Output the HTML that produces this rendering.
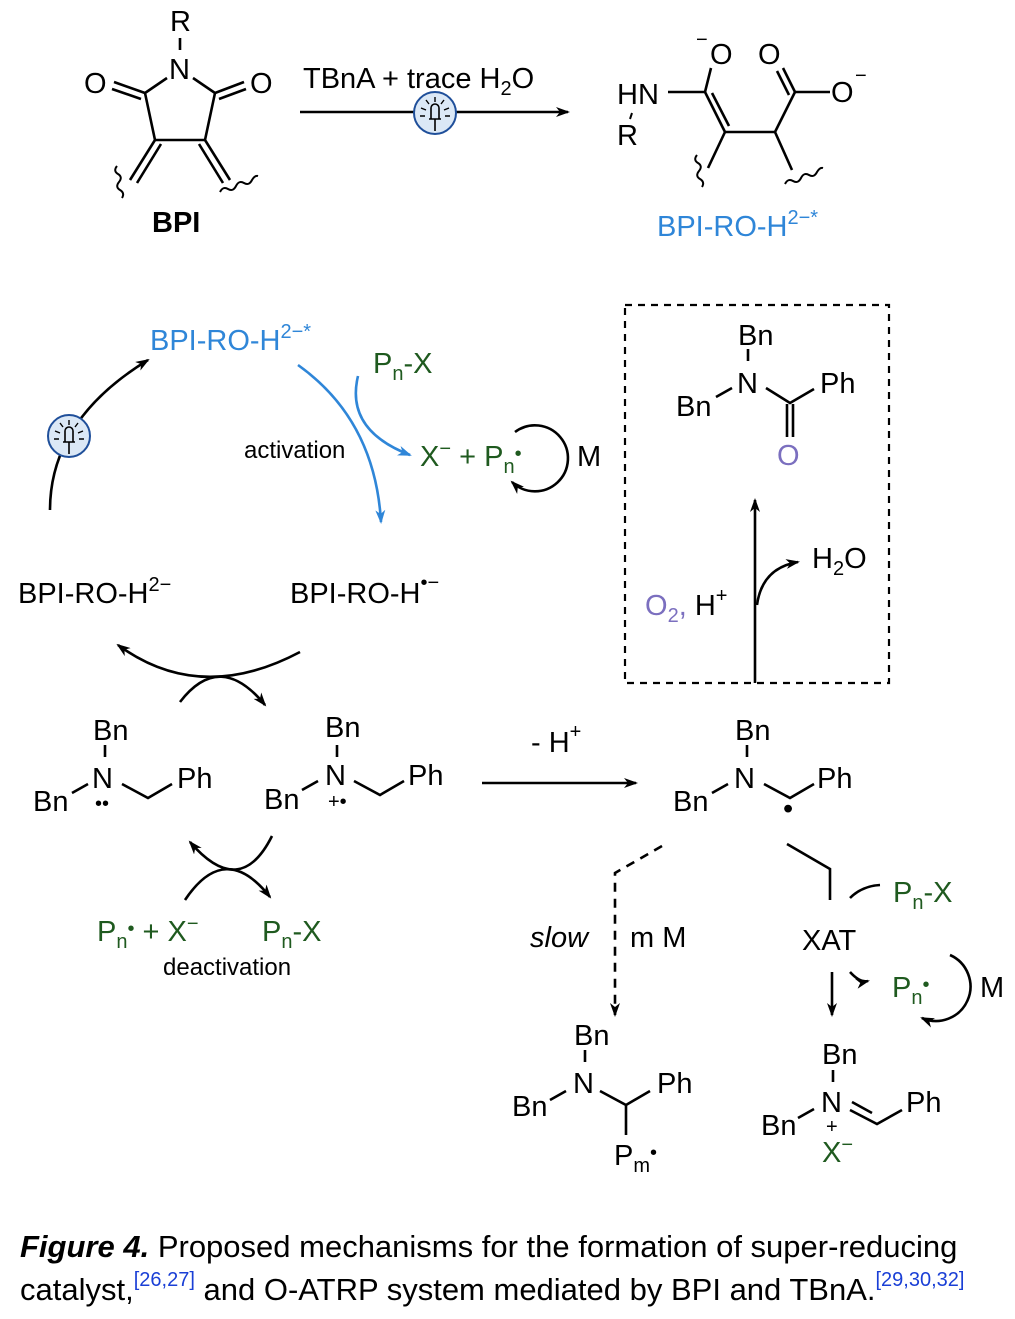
<!DOCTYPE html>
<html><head><meta charset="utf-8"><style>
html,body{margin:0;padding:0;background:#fff;}
svg{display:block;}
text{font-family:"Liberation Sans",sans-serif;font-size:29px;fill:#000;}
.b{fill:#2f86d8;}
.g{fill:#1f5a1f;}
.p{fill:#7b6fbf;}
.s{font-size:20px;}
.cap{font-size:31px;}
</style></head><body>
<svg width="1015" height="1319" viewBox="0 0 1015 1319" xmlns="http://www.w3.org/2000/svg">
<defs>
<marker id="ah" markerWidth="14" markerHeight="10" refX="12" refY="5" orient="auto" markerUnits="userSpaceOnUse"><path d="M0,0 L14,5 L0,10 L4,5 z" fill="#000"/></marker>
<marker id="ahb" markerWidth="14" markerHeight="10" refX="12" refY="5" orient="auto" markerUnits="userSpaceOnUse"><path d="M0,0 L14,5 L0,10 L4,5 z" fill="#2f86d8"/></marker>
<g id="bulb"><circle r="21" fill="#dbe8f6" stroke="#1f4f9a" stroke-width="2"/>
<path d="M-4,6 V-5 a4,4 0 0 1 8,0 V6 z M-6,6 h12 M0,6 v12" fill="none" stroke="#000" stroke-width="1.6"/>
<path d="M0,-16 v5 M-9,-13 l3,4 M9,-13 l-3,4 M-14,-5 l5,2 M14,-5 l-5,2 M-15,3 h5 M15,3 h-5" stroke="#000" stroke-width="1.4"/></g>
</defs>
<g fill="none" stroke="#000" stroke-width="2.6">
<line x1="180" y1="38" x2="180" y2="50"/>
<path d="M167,78 L145,93 L155,140 L205,140 L215,93 L193,78"/>
<line x1="145" y1="93" x2="114" y2="82"/><line x1="141" y1="99" x2="112" y2="89"/>
<line x1="215" y1="93" x2="244" y2="82"/><line x1="219" y1="99" x2="246" y2="89"/>
<line x1="155" y1="140" x2="130" y2="180"/><line x1="161" y1="144" x2="137" y2="183"/>
<line x1="205" y1="140" x2="230" y2="180"/><line x1="199" y1="144" x2="223" y2="183"/>
<path d="M117,166 q-4,5 1,8 q5,3 1,8 q-4,5 1,8 q5,3 2,8" stroke-width="2"/>
<path d="M220,192 q3,-6 8,-3 q5,3 8,-3 q3,-6 8,-3 q5,3 8,-3 q3,-5 6,-4" stroke-width="2"/>
<line x1="300" y1="112" x2="568" y2="112" marker-end="url(#ah)"/>
<line x1="668" y1="92" x2="705" y2="92"/>
<line x1="705" y1="92" x2="711" y2="68"/>
<line x1="705" y1="92" x2="725" y2="132"/><line x1="712" y1="93" x2="729" y2="126"/>
<line x1="725" y1="132" x2="775" y2="132"/>
<line x1="775" y1="132" x2="795" y2="92"/>
<line x1="795" y1="92" x2="783" y2="68"/><line x1="789" y1="95" x2="777" y2="71"/>
<line x1="795" y1="92" x2="830" y2="92"/>
<line x1="725" y1="132" x2="708" y2="168"/>
<line x1="775" y1="132" x2="792" y2="170"/>
<line x1="632" y1="113" x2="630" y2="119" stroke-width="2"/>
<path d="M697,155 q-4,5 1,8 q5,3 1,8 q-4,5 1,8 q5,3 2,8" stroke-width="2"/>
<path d="M785,184 q3,-6 8,-3 q5,3 8,-3 q3,-6 8,-3 q5,3 8,-3 q3,-5 6,-4" stroke-width="2"/>
<path d="M50,510 Q50,420 148,360" marker-end="url(#ah)"/>
<path d="M298,365 Q375,420 381,522" stroke="#2f86d8" marker-end="url(#ahb)"/>
<path d="M358,376 Q345,430 410,455" stroke="#2f86d8" marker-end="url(#ahb)"/>
<path d="M515,432 A33,33 0 1 1 512,482" marker-end="url(#ah)"/>
<path d="M300,652 Q200,705 118,645" marker-end="url(#ah)"/>
<path d="M180,702 Q220,650 265,705" marker-end="url(#ah)"/>
<line x1="105" y1="745" x2="105" y2="757"/>
<path d="M72,793 L88,784 M122,784 L148,798 L172,784"/>
<line x1="337" y1="745" x2="337" y2="757"/>
<path d="M302,790 L318,781 M354,781 L380,795 L404,781"/>
<path d="M272,836 Q240,900 190,842" marker-end="url(#ah)"/>
<path d="M185,900 Q225,840 270,897" marker-end="url(#ah)"/>
<line x1="482" y1="783" x2="636" y2="783" marker-end="url(#ah)"/>
<line x1="747" y1="745" x2="747" y2="757"/>
<path d="M712,793 L728,784 M764,784 L790,798 L814,784"/>
<path d="M662,846 L615,873 L615,1015" stroke-dasharray="9,7" marker-end="url(#ah)"/>
<path d="M787,844 L830,869 L830,900"/>
<path d="M850,898 Q862,886 880,885"/>
<line x1="832" y1="972" x2="832" y2="1015" marker-end="url(#ah)"/>
<path d="M850,972 Q860,983 868,981" marker-end="url(#ah)"/>
<path d="M950,955 A32,32 0 1 1 922,1018" marker-end="url(#ah)"/>
<line x1="585" y1="1050" x2="585" y2="1062"/>
<path d="M550,1100 L566,1091 M600,1091 L626,1105 L650,1091 M626,1105 L626,1135"/>
<line x1="833" y1="1070" x2="833" y2="1082"/>
<path d="M798,1118 L814,1109 M850,1110 L877,1124 L902,1110 M852,1102 L872,1113"/>
<rect x="625" y="305" width="264" height="378" stroke-width="2.2" stroke-dasharray="7,6"/>
<line x1="748" y1="349" x2="748" y2="361"/>
<path d="M716,397 L732,388 M766,388 L790,403 L814,389"/>
<line x1="787" y1="404" x2="787" y2="437"/><line x1="793" y1="404" x2="793" y2="437"/>
<line x1="755" y1="683" x2="755" y2="500" marker-end="url(#ah)"/>
<path d="M757,605 Q762,568 798,562" marker-end="url(#ah)"/>
</g>
<use href="#bulb" x="435" y="113"/>
<use href="#bulb" x="69" y="436"/>
<text x="170" y="31">R</text>
<text x="169" y="79">N</text>
<text x="84" y="93">O</text>
<text x="250" y="93">O</text>
<text x="152" y="232" font-weight="bold">BPI</text>
<text x="303" y="88">TBnA + trace H<tspan class="s" dy="7">2</tspan><tspan dy="-7">O</tspan></text>
<text x="617" y="104">HN</text>
<text x="617" y="145">R</text>
<text x="710" y="64">O</text><text x="696" y="46" class="s">−</text>
<text x="758" y="64">O</text>
<text x="831" y="102">O</text><text x="855" y="82" class="s">−</text>
<text x="657" y="236" class="b">BPI-RO-H<tspan class="s b" dy="-12">2−*</tspan></text>
<text x="150" y="350" class="b">BPI-RO-H<tspan class="s b" dy="-12">2−*</tspan></text>
<text x="373" y="373" class="g">P<tspan class="s g" dy="7">n</tspan><tspan dy="-7">-X</tspan></text>
<text x="244" y="458" style="font-size:24px">activation</text>
<text x="420" y="466" class="g">X<tspan class="s g" dy="-11">−</tspan><tspan dy="11"> + P</tspan><tspan class="s g" dy="7">n</tspan><tspan dy="-13" class="s g">•</tspan></text>
<text x="577" y="466">M</text>
<text x="18" y="603">BPI-RO-H<tspan class="s" dy="-12">2−</tspan></text>
<text x="290" y="603">BPI-RO-H<tspan class="s" dy="-14">•−</tspan></text>
<text x="93" y="740">Bn</text><text x="92" y="788">N</text><text x="177" y="788">Ph</text>
<text x="33" y="811">Bn</text><text x="95" y="810" class="s">••</text>
<text x="325" y="737">Bn</text><text x="325" y="785">N</text><text x="408" y="785">Ph</text>
<text x="264" y="809">Bn</text><text x="328" y="808" class="s">+•</text>
<text x="97" y="941" class="g">P<tspan class="s g" dy="7">n</tspan><tspan dy="-13" class="s g">•</tspan><tspan dy="6"> + X</tspan><tspan class="s g" dy="-11">−</tspan></text>
<text x="262" y="941" class="g">P<tspan class="s g" dy="7">n</tspan><tspan dy="-7">-X</tspan></text>
<text x="163" y="975" style="font-size:24px">deactivation</text>
<text x="531" y="752">- H<tspan class="s" dy="-14">+</tspan></text>
<text x="735" y="740">Bn</text><text x="734" y="788">N</text><text x="817" y="788">Ph</text>
<text x="673" y="811">Bn</text><text x="783" y="818">•</text>
<text x="530" y="947" style="font-style:italic">slow</text>
<text x="630" y="947">m M</text>
<text x="802" y="950">XAT</text>
<text x="893" y="902" class="g">P<tspan class="s g" dy="7">n</tspan><tspan dy="-7">-X</tspan></text>
<text x="892" y="997" class="g">P<tspan class="s g" dy="7">n</tspan><tspan dy="-13" class="s g">•</tspan></text>
<text x="980" y="997">M</text>
<text x="574" y="1045">Bn</text><text x="573" y="1093">N</text><text x="657" y="1093">Ph</text>
<text x="512" y="1116">Bn</text>
<text x="614" y="1165">P<tspan class="s" dy="7">m</tspan><tspan dy="-13" class="s">•</tspan></text>
<text x="822" y="1064">Bn</text><text x="821" y="1112">N</text><text x="906" y="1112">Ph</text>
<text x="761" y="1135">Bn</text><text x="826" y="1133" class="s">+</text>
<text x="822" y="1162" class="g">X<tspan class="s g" dy="-11">−</tspan></text>
<text x="645" y="615" class="p">O<tspan class="s p" dy="7">2</tspan><tspan dy="-7">, </tspan><tspan style="fill:#000">H</tspan><tspan class="s" style="fill:#000" dy="-13">+</tspan></text>
<text x="812" y="568">H<tspan class="s" dy="7">2</tspan><tspan dy="-7">O</tspan></text>
<text x="738" y="345">Bn</text><text x="737" y="393">N</text><text x="820" y="393">Ph</text>
<text x="676" y="416">Bn</text>
<text x="777" y="465" class="p">O</text>
<text x="20" y="1257" class="cap"><tspan font-weight="bold" font-style="italic">Figure 4.</tspan> Proposed mechanisms for the formation of super-reducing</text>
<text x="20" y="1300" class="cap">catalyst,<tspan class="s" style="fill:#1a3fd6" dy="-14">[26,27]</tspan><tspan dy="14"> and O-ATRP system mediated by BPI and TBnA.</tspan><tspan class="s" style="fill:#1a3fd6" dy="-14">[29,30,32]</tspan></text>
</svg>
</body></html>
